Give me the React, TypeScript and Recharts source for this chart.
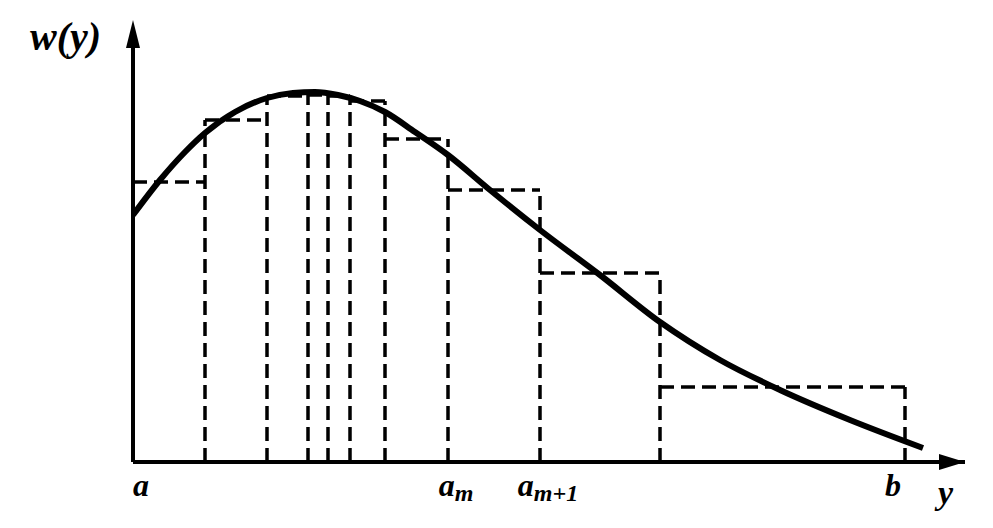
import { ComposedChart, Line, XAxis, YAxis, ReferenceLine, ReferenceDot } from "recharts";

// x: offset along the y-axis of the figure, w: density height (arbitrary units)
const curveX = [0, 27, 52, 72, 102, 134, 160, 182, 205, 227, 252, 282, 315, 357, 407, 467, 527, 587, 647, 717, 790];
const curveW = [247, 282, 310, 329, 350, 364, 369, 370, 367, 361, 350, 330, 307, 272, 232, 187, 140, 102, 72, 42, 14];

// histogram bin edges and bin heights
const binEdges = [0, 72, 134, 175, 195, 217, 252, 315, 407, 527, 772];
const binHeights = [280, 342, 366, 367, 366, 361, 323, 272, 189, 75];

const tickValues = [0, 315, 407, 772];
const tickBase = ["a", "a", "a", "b"];
const tickSub = ["", "m", "m+1", ""];

const X_MAX = 832;
const Y_MAX = 442;

const curveData = curveX.map((x, i) => ({ x, w: curveW[i] }));

const font = "'Liberation Serif', 'DejaVu Serif', serif";

function XTick(props: any) {
  const { x, y, payload } = props;
  const i = tickValues.indexOf(payload.value);
  if (i < 0) return null;
  const dx = i === 0 ? 8 : i === tickValues.length - 1 ? -12 : 8;
  return (
    <text
      x={x + dx}
      y={y + 26}
      textAnchor="middle"
      fontFamily={font}
      fontStyle="italic"
      fontWeight="bold"
      fontSize={32}
      fill="#000"
    >
      {tickBase[i]}
      {tickSub[i] && (
        <tspan fontSize={24} dy={5}>
          {tickSub[i]}
        </tspan>
      )}
    </text>
  );
}

const xArrow = (p: any) => (
  <polygon points={`${p.cx},${p.cy} ${p.cx - 26},${p.cy - 8} ${p.cx - 26},${p.cy + 8}`} fill="#000" />
);
const yArrow = (p: any) => (
  <polygon points={`${p.cx},${p.cy} ${p.cx - 7},${p.cy + 28} ${p.cx + 7},${p.cy + 28}`} fill="#000" />
);

export default function App() {
  const dash = "14 7";
  return (
    <div style={{ position: "absolute", left: 0, top: 0, background: "#fff" }}>
      <ComposedChart
        width={993}
        height={528}
        data={curveData}
        margin={{ top: 20, right: 28, bottom: 0, left: 133 }}
      >
        <XAxis
          dataKey="x"
          type="number"
          domain={[0, X_MAX]}
          ticks={tickValues}
          tick={<XTick />}
          tickLine={false}
          axisLine={{ stroke: "#000", strokeWidth: 4 }}
          height={66}
          interval={0}
          allowDataOverflow
        />
        <YAxis type="number" domain={[0, Y_MAX]} hide allowDataOverflow />
        {binEdges.map((e, i) => {
          const left = i > 0 ? binHeights[i - 1] : 0;
          const right = i < binHeights.length ? binHeights[i] : 0;
          return (
            <ReferenceLine
              key={"v" + i}
              segment={[
                { x: e, y: 0 },
                { x: e, y: Math.max(left, right) },
              ]}
              stroke="#000"
              strokeWidth={3.5}
              strokeDasharray={dash}
            />
          );
        })}
        {binHeights.map((h, i) => (
          <ReferenceLine
            key={"h" + i}
            segment={[
              { x: binEdges[i], y: h },
              { x: binEdges[i + 1], y: h },
            ]}
            stroke="#000"
            strokeWidth={3.5}
            strokeDasharray={dash}
          />
        ))}
        {/* vertical axis line */}
        <ReferenceLine
          segment={[
            { x: 0, y: 0 },
            { x: 0, y: Y_MAX - 10 },
          ]}
          stroke="#000"
          strokeWidth={4}
        />
        <Line
          type="monotone"
          dataKey="w"
          stroke="#000"
          strokeWidth={6}
          dot={false}
          isAnimationActive={false}
        />
        <ReferenceDot x={X_MAX} y={0} r={0} shape={xArrow} ifOverflow="visible" />
        <ReferenceDot x={0} y={Y_MAX} r={0} shape={yArrow} ifOverflow="visible" />
        <text x={30} y={50} fontFamily={font} fontStyle="italic" fontWeight="bold" fontSize={40} fill="#000">
          w(y)
        </text>
        <text x={938} y={504} fontFamily={font} fontStyle="italic" fontWeight="bold" fontSize={34} fill="#000">
          y
        </text>
      </ComposedChart>
    </div>
  );
}
